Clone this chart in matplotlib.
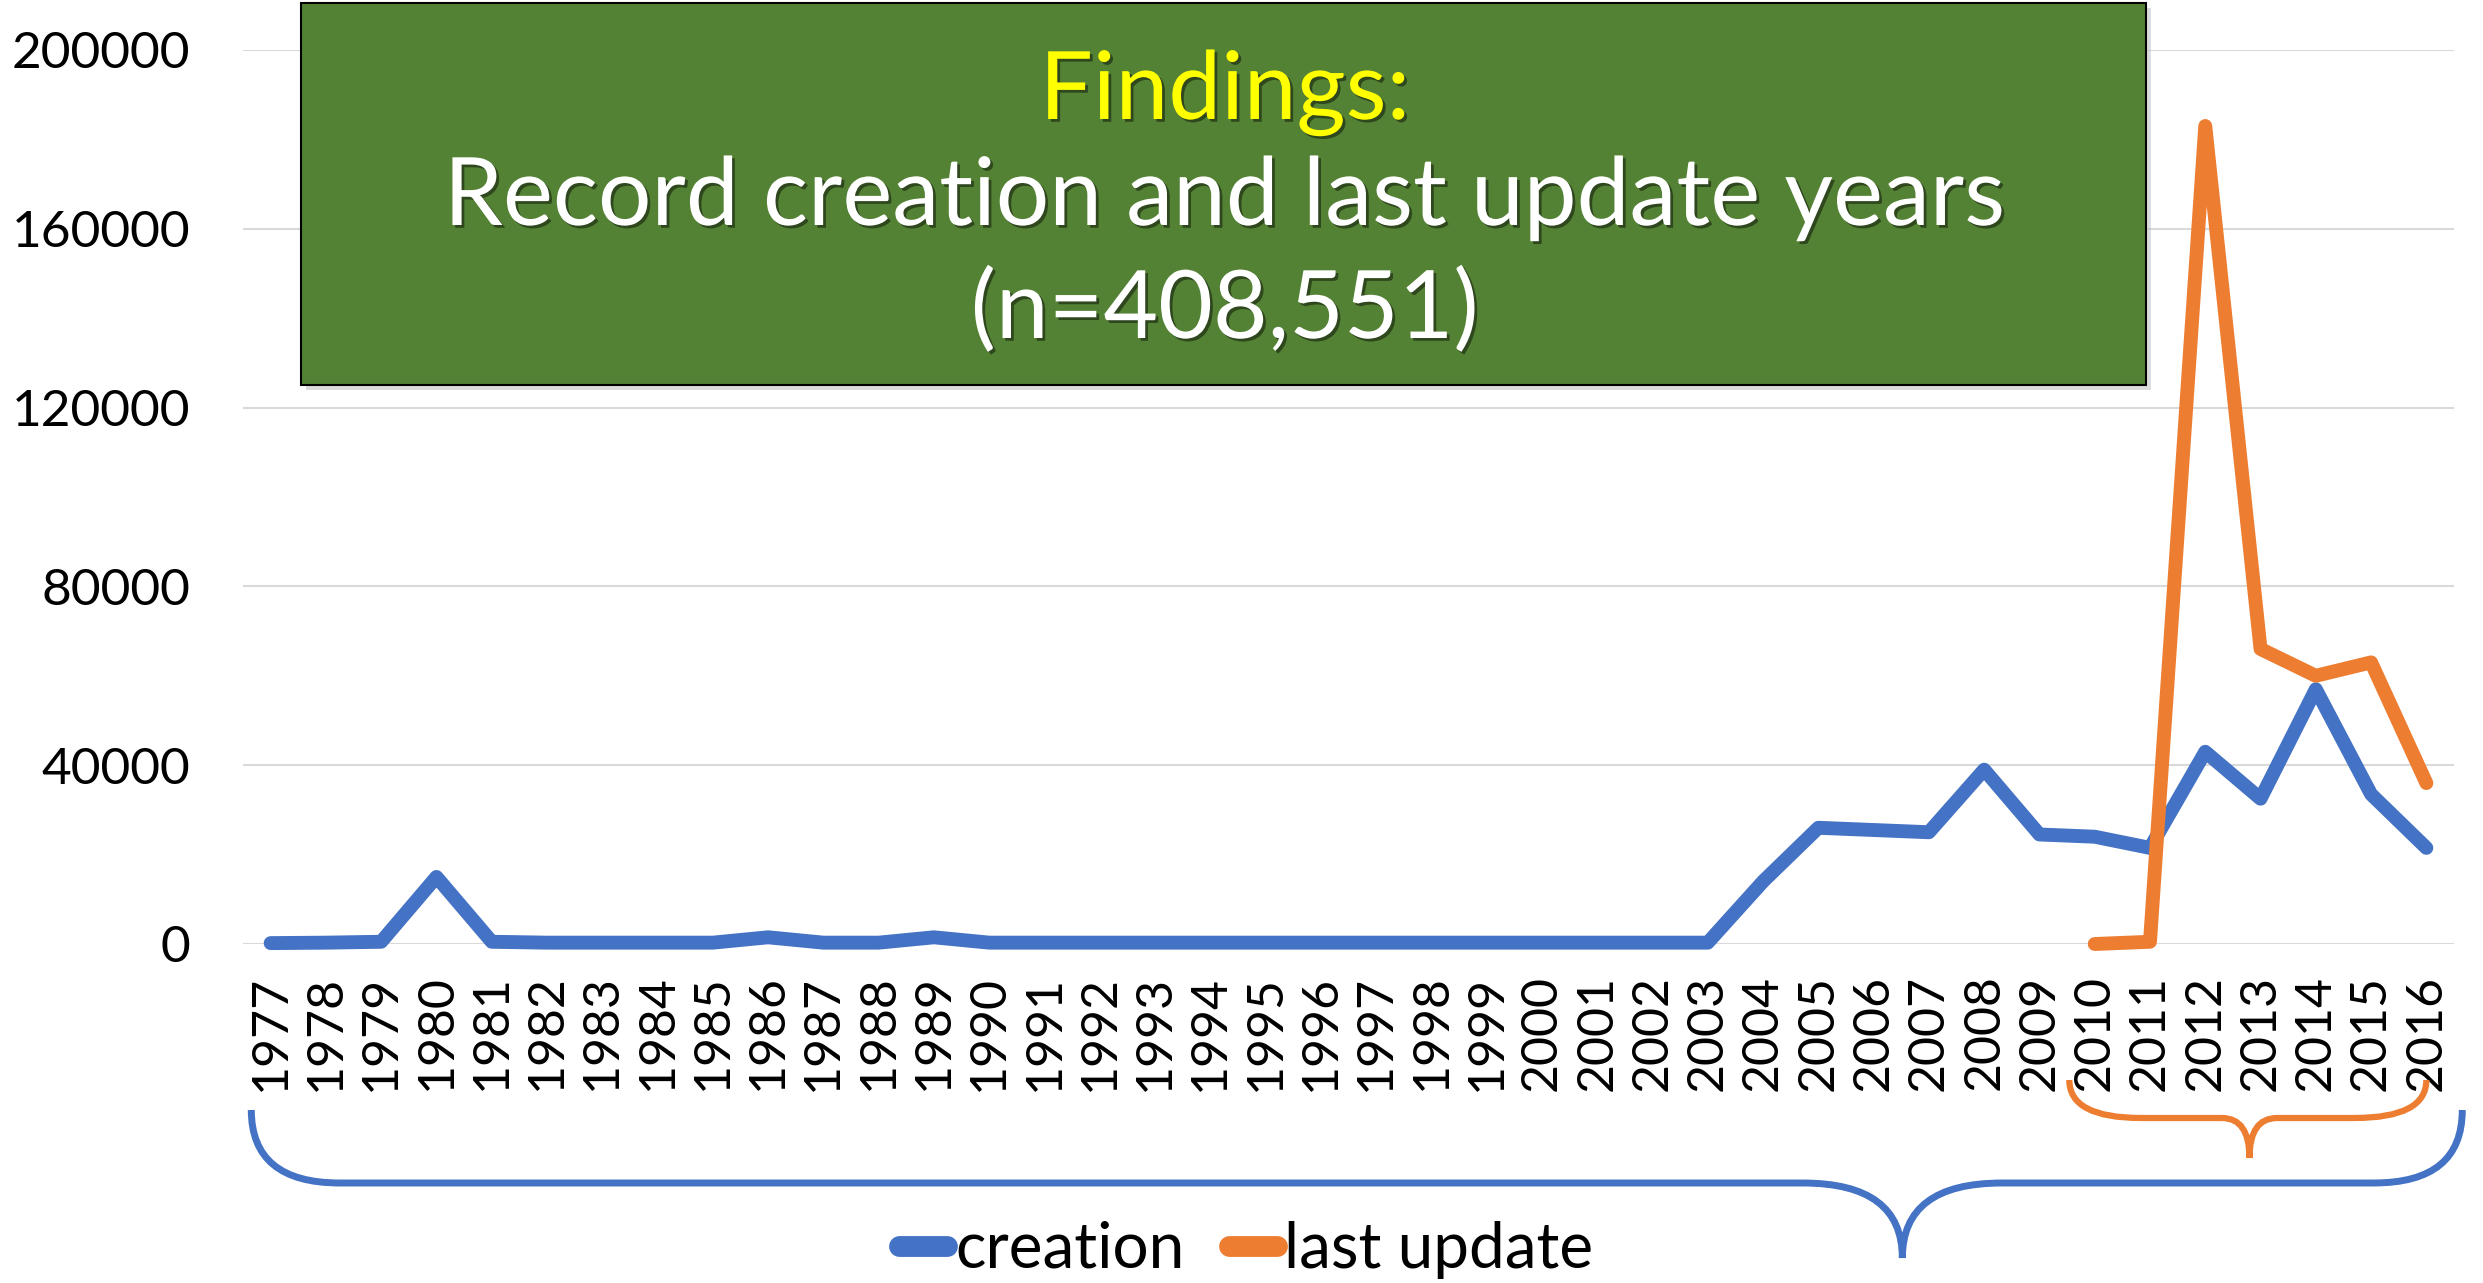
import numpy as np
import matplotlib
matplotlib.use("Agg")
import matplotlib.pyplot as plt
import matplotlib.patheffects as pe
from matplotlib.lines import Line2D
from matplotlib.path import Path
from matplotlib.patches import PathPatch, Rectangle
from matplotlib.transforms import blended_transform_factory

plt.rcParams['font.family'] = ['Lato', 'DejaVu Sans']

# data
years = ['1977', '1978', '1979', '1980', '1981', '1982', '1983', '1984', '1985', '1986',
         '1987', '1988', '1989', '1990', '1991', '1992', '1993', '1994', '1995', '1996',
         '1997', '1998', '1999', '2000', '2001', '2002', '2003', '2004', '2005', '2006',
         '2007', '2008', '2009', '2010', '2011', '2012', '2013', '2014', '2015', '2016']
creation = [200, 300, 500, 15000, 500, 300, 300, 300, 300, 1500,
            300, 300, 1500, 300, 300, 300, 300, 300, 300, 300,
            300, 300, 300, 300, 300, 300, 300, 14000, 26000, 25500,
            25000, 39000, 24500, 24000, 21500, 43000, 32500, 57000, 33500, 21500]
last_update = [np.nan] * 33 + [0, 500, 183000, 66000, 60000, 63000, 36000]
yticks = [0, 40000, 80000, 120000, 160000, 200000]

title_lines = ['Findings:', 'Record creation and last update years', '(n=408,551)']

BLUE = '#4472C4'
ORANGE = '#ED7D31'
GREEN = '#548235'

W, H = 2483, 1283
fig = plt.figure(figsize=(W / 100, H / 100), dpi=100)
ax = fig.add_axes([243 / W, 1 - 944 / H, (2454 - 243) / W, (944 - 50) / H])

x = np.arange(len(years))
ax.plot(x, creation, color=BLUE, lw=10, solid_capstyle='round', clip_on=False, zorder=3)
ax.plot(x, last_update, color=ORANGE, lw=10, solid_capstyle='round', clip_on=False, zorder=4)

ax.set_xlim(-0.5, len(years) - 0.5)
ax.set_ylim(0, 200000)
ax.set_yticks(yticks)
ax.set_yticklabels([str(v) for v in yticks])
ax.set_xticks(x)
ax.set_xticklabels(years, rotation=90)
ax.grid(axis='y', color='#D9D9D9', lw=1.5)
ax.set_axisbelow(True)
for s in ax.spines.values():
    s.set_visible(False)
ax.tick_params(axis='y', length=0, pad=38, labelsize=37)
ax.tick_params(axis='x', length=0, pad=22, labelsize=36)

# legend
handles = [Line2D([], [], color=BLUE, lw=15, solid_capstyle='round'),
           Line2D([], [], color=ORANGE, lw=15, solid_capstyle='round')]
fig.legend(handles, ['creation', 'last update'], loc='center', bbox_to_anchor=(0.502, 1 - 1250 / H),
           ncol=2, frameon=False, fontsize=46, handlelength=0.75, handletextpad=0.12,
           columnspacing=0.7)


# braces under the axis
def brace(x0, x1, xt, yt, ym, yb, r, rt):
    verts = [(x0, yt), (x0, ym), (x0 + r, ym), (xt - rt, ym), (xt, ym), (xt, yb),
             (xt, ym), (xt + rt, ym), (x1 - r, ym), (x1, ym), (x1, yt)]
    codes = [Path.MOVETO, Path.CURVE3, Path.CURVE3, Path.LINETO, Path.CURVE3, Path.CURVE3,
             Path.CURVE3, Path.CURVE3, Path.LINETO, Path.CURVE3, Path.CURVE3]
    return Path(verts, codes)


btr = blended_transform_factory(ax.transData, fig.transFigure)
fig.add_artist(PathPatch(brace(-0.35, 39.65, 29.52, 1 - 1110 / H, 1 - 1183 / H, 1 - 1258 / H, 1.6, 1.8),
                         transform=btr, fill=False, ec=BLUE, lw=5))
fig.add_artist(PathPatch(brace(32.54, 39.0, 35.8, 1 - 1080 / H, 1 - 1118 / H, 1 - 1158 / H, 1.3, 0.5),
                         transform=btr, fill=False, ec=ORANGE, lw=4.5))

# title box
bx0, by0, bx1, by1 = 301, 3, 2146, 385
fig.add_artist(Rectangle((bx0 / W + 0.002, 1 - by1 / H - 0.004), (bx1 - bx0) / W, (by1 - by0) / H,
                         transform=fig.transFigure, fc='#bbbbbb', ec='none', alpha=0.5))
fig.add_artist(Rectangle((bx0 / W, 1 - by1 / H), (bx1 - bx0) / W, (by1 - by0) / H,
                         transform=fig.transFigure, fc=GREEN, ec='black', lw=1.5))

shadow = [pe.SimplePatchShadow(offset=(2, -2), shadow_rgbFace='black', alpha=0.45), pe.Normal()]
cx = 1225 / W
for txt, yb, col in zip(title_lines, [119, 225, 338], ['#FFFF00', 'white', 'white']):
    fig.text(cx, 1 - yb / H, txt, ha='center', va='baseline', fontsize=68, color=col,
             path_effects=shadow)

fig.savefig('out.png', dpi=100)
